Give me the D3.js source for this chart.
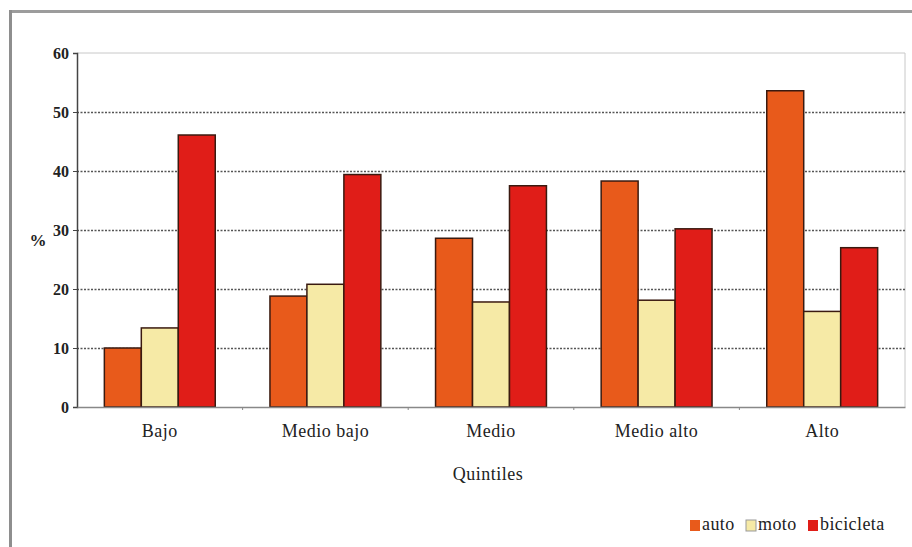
<!DOCTYPE html>
<html>
<head>
<meta charset="utf-8">
<script src="https://cdn.jsdelivr.net/npm/d3@7"></script>
<style>
  html, body { margin: 0; padding: 0; background: #fff; }
  svg { display: block; }
  text { font-family: "Liberation Serif", "DejaVu Serif", serif; fill: #222; }
</style>
</head>
<body>
<svg id="chart" width="912" height="547"></svg>
<script>
// Quintiles of household income
const categories = ["Bajo", "Medio bajo", "Medio", "Medio alto", "Alto"];
const seriesNames = ["auto", "moto", "bicicleta"];
// Share of households (%) owning each vehicle type
const auto = [10.0, 18.8, 28.6, 38.3, 53.6];
const moto = [13.4, 20.8, 17.8, 18.1, 16.2];
const bicicleta = [46.1, 39.4, 37.5, 30.2, 27.0];
const yTicks = [0, 10, 20, 30, 40, 50, 60];

const colors = { auto: "#e85a1b", moto: "#f6eaa6", bicicleta: "#e01d18" };
const values = { auto, moto, bicicleta };

const svg = d3.select("#chart");
const W = 912, H = 547;
const m = { left: 77, right: 905, top: 53, bottom: 407 };

// outer frame
svg.append("line").attr("x1", 9).attr("x2", W).attr("y1", 11.5).attr("y2", 11.5)
  .attr("stroke", "#9c9c9c").attr("stroke-width", 3);
svg.append("line").attr("x1", 10.5).attr("x2", 10.5).attr("y1", 10).attr("y2", H)
  .attr("stroke", "#8e8e8e").attr("stroke-width", 3);

const x = d3.scaleBand().domain(categories).range([m.left, m.right]).paddingInner(0).paddingOuter(0);
const x1 = d3.scaleBand().domain(seriesNames).range([0, x.bandwidth()]).paddingInner(0).paddingOuter(0.74);
const y = d3.scaleLinear().domain([0, 60]).range([m.bottom, m.top]);

// plot-area border (top and right)
svg.append("path")
  .attr("d", `M${m.left},${m.top}H${m.right}V${m.bottom}`)
  .attr("fill", "none").attr("stroke", "#c8c8c8").attr("stroke-width", 1);

// dashed gridlines
svg.append("g").selectAll("line").data(yTicks.filter(d => d > 0 && d < 60)).join("line")
  .attr("x1", m.left).attr("x2", m.right)
  .attr("y1", d => Math.round(y(d)) + 0.5).attr("y2", d => Math.round(y(d)) + 0.5)
  .attr("stroke", "#555").attr("stroke-width", 1.3).attr("stroke-dasharray", "2,1.5");

// bars
const groups = svg.append("g").selectAll("g").data(categories).join("g")
  .attr("transform", d => `translate(${x(d)},0)`);
groups.selectAll("rect")
  .data((c, i) => seriesNames.map(s => ({ s, v: values[s][i] })))
  .join("rect")
  .attr("x", d => x1(d.s))
  .attr("width", x1.bandwidth())
  .attr("y", d => y(d.v))
  .attr("height", d => y(0) - y(d.v))
  .attr("fill", d => colors[d.s])
  .attr("stroke", "#3a1a10").attr("stroke-width", 1.5);

// y axis
const yAxis = svg.append("g").attr("transform", `translate(${m.left},0)`)
  .call(d3.axisLeft(y).tickValues(yTicks).tickSize(4).tickPadding(4));
yAxis.select(".domain").attr("stroke", "#444").attr("stroke-width", 1.5);
yAxis.selectAll(".tick line").attr("stroke", "#444");
yAxis.selectAll(".tick text").attr("font-size", 16).attr("font-weight", "bold")
  .attr("font-family", "Liberation Serif, serif").attr("fill", "#333");

// x axis
const xAxis = svg.append("g").attr("transform", `translate(0,${m.bottom})`)
  .call(d3.axisBottom(x).tickSize(0).tickPadding(17));
xAxis.select(".domain").attr("stroke", "#888").attr("stroke-width", 1.5);
xAxis.selectAll(".tick text").attr("font-size", 18).attr("letter-spacing", 0.5)
  .attr("font-family", "Liberation Serif, serif").attr("fill", "#222");
// tick marks between categories
svg.append("g").selectAll("line").data(categories.slice(1)).join("line")
  .attr("x1", d => x(d)).attr("x2", d => x(d))
  .attr("y1", m.bottom).attr("y2", m.bottom + 3)
  .attr("stroke", "#888");

// axis titles
svg.append("text").attr("x", 38).attr("y", 246).attr("text-anchor", "middle")
  .attr("font-size", 17).attr("font-weight", "bold").attr("fill", "#333").text("%");
svg.append("text").attr("x", 488).attr("y", 480).attr("text-anchor", "middle")
  .attr("font-size", 18).attr("letter-spacing", 0.5).text("Quintiles");

// legend
const legend = svg.append("g").attr("transform", "translate(690,0)");
const legendX = { auto: 0, moto: 56, bicicleta: 118 };
seriesNames.forEach(s => {
  const lx = legendX[s];
  legend.append("rect").attr("x", lx).attr("y", 520).attr("width", 10).attr("height", 11)
    .attr("fill", colors[s]).attr("stroke", s === "moto" ? "#999" : "none");
  legend.append("text").attr("x", lx + 12).attr("y", 530).attr("font-size", 18)
    .attr("letter-spacing", 0.4).text(s);
});
</script>
</body>
</html>
